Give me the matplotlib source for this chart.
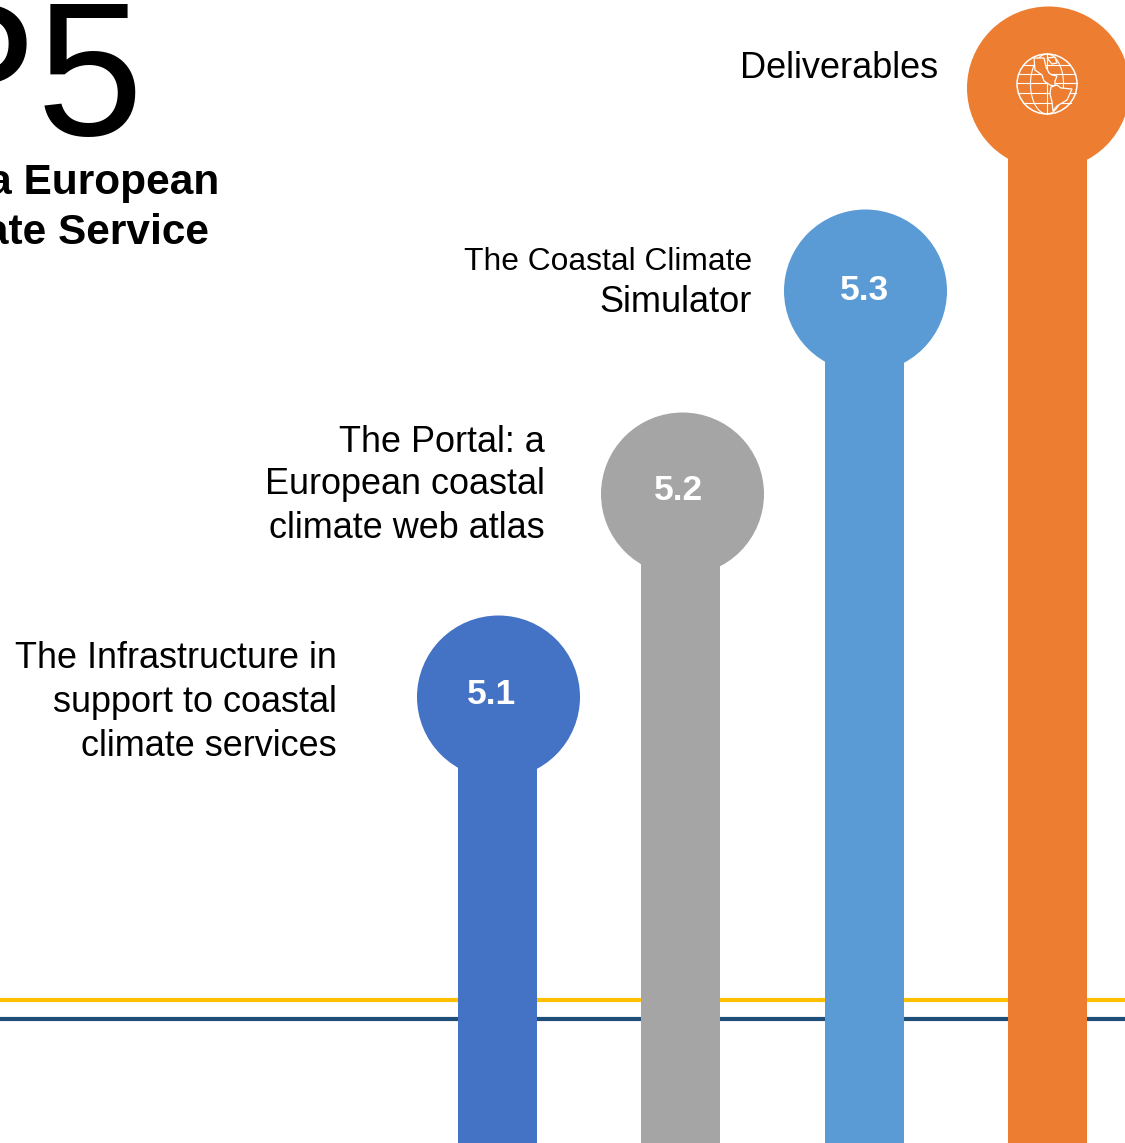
import numpy as np
import matplotlib
matplotlib.use("Agg")
import matplotlib.pyplot as plt
from matplotlib.patches import Circle, Polygon

plt.rcParams['font.family'] = ['Liberation Sans', 'DejaVu Sans']

# stems, left to right
names = ["5.1", "5.2", "5.3", ""]
stem_x = [497.5, 680.5, 864, 1047.5]
head_x = [498.5, 682.5, 865.5, 1048.5]
stem_h = [446, 649, 852, 1055]
colors = ["#4472C4", "#A5A5A5", "#5B9BD5", "#ED7D31"]
name_x = [491, 678, 864, 0]
name_y = [449, 653, 853, 0]

label_lines = [
    ["The Infrastructure in", "support to coastal", "climate services"],
    ["The Portal: a", "European coastal", "climate web atlas"],
    ["The Coastal Climate", "Simulator"],
    ["Deliverables"],
]
label_right = [337, 545, 752, 938]
label_y = [[484, 440, 396], [701, 658, 614], [881, 840], [1074]]
label_size = [[25.9, 25.9, 25.9], [25.9, 25.9, 25.9], [22.9, 26], [26]]

title = "WP5"
subtitle = ["Towards a European", "Climate Service"]

fig = plt.figure(figsize=(11.25, 11.43), dpi=100)
ax = fig.add_axes([0, 0, 1, 1])
ax.set_xlim(0, 1125)
ax.set_ylim(0, 1143)
ax.axis("off")

ax.axhline(143, color="#FFC000", lw=3, zorder=1)
ax.axhline(124, color="#1F4E79", lw=3, zorder=1)

ax.bar(stem_x, stem_h, width=79, color=colors, zorder=2)
for i in range(4):
    ax.add_patch(Circle((head_x[i], stem_h[i]), 81.5, color=colors[i], lw=0, zorder=2))
    if names[i]:
        ax.text(name_x[i], name_y[i], names[i], color="white", fontsize=25.5, fontweight="bold",
                ha="center", va="center", zorder=3)

for lines, r, ys, sizes in zip(label_lines, label_right, label_y, label_size):
    for s, y, fs in zip(lines, ys, sizes):
        ax.text(r, y, s, ha="right", va="center", fontsize=fs, color="black")

ax.text(143, 1143 - 135, title, ha="right", va="baseline", fontsize=138, color="black")
ax.text(219, 1143 - 194, subtitle[0], ha="right", va="baseline", fontsize=30.5, fontweight="bold")
ax.text(209, 1143 - 244, subtitle[1], ha="right", va="baseline", fontsize=30.5, fontweight="bold")

# globe icon in the orange head
gx, gy, gr = 1047, 1059, 30
ax.add_patch(Circle((gx, gy), gr, fill=False, ec="white", lw=1.1, zorder=4))
t = np.linspace(-1, 1, 60)
for k in [-0.55, 0.0, 0.55]:
    ax.plot(gx + k * gr * np.sqrt(1 - t ** 2), gy + gr * t, color="white", lw=0.8, zorder=4)
for k in [-0.62, -0.3, 0.03, 0.35, 0.65]:
    w = gr * np.sqrt(1 - k ** 2)
    ax.plot([gx - w, gx + w], [gy + k * gr, gy + k * gr], color="white", lw=0.8, zorder=4)
north = [(-13, 26), (-12, 14), (-5, 9), (-3, 3), (3, -1), (8, -2), (8, 3), (10, 8),
         (5, 9), (2, 11), (-1, 17), (-3, 26)]
south = [(4, -3), (10, -1), (14, -4), (25, -5), (20, -16), (10, -22), (6, -27), (5, -18), (3, -10)]
green = [(0, 26), (8, 27), (10, 21), (5, 20)]
for shape in [north, south, green]:
    ax.add_patch(Polygon([(gx + a, gy + b) for a, b in shape], closed=True,
                         fc="#ED7D31", ec="white", lw=0.9, zorder=5))

fig.savefig("out.png", dpi=100)
